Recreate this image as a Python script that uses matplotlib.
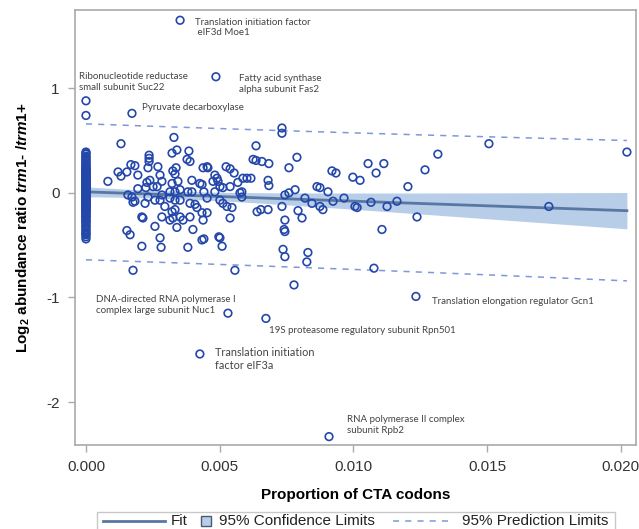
import numpy as np
import matplotlib
matplotlib.use("Agg")
import matplotlib.pyplot as plt
from matplotlib.lines import Line2D
from matplotlib.patches import Rectangle

plt.rcParams["font.family"] = ["Liberation Sans", "DejaVu Sans"]
plt.rcParams["axes.unicode_minus"] = False
plt.rcParams["mathtext.fontset"] = "custom"
plt.rcParams["mathtext.rm"] = "Liberation Sans:bold"
plt.rcParams["mathtext.it"] = "Liberation Sans:bold:italic"
plt.rcParams["mathtext.bf"] = "Liberation Sans:bold"

# Proteins with no CTA codons (log2 ratio only)
zero_cta_ratio = [
    0.88, 0.74,
    0.39, 0.38, 0.37, 0.35, 0.34, 0.33, 0.31, 0.31, 0.29, 0.28, 0.27, 0.26, 0.25, 0.24,
    0.23, 0.22, 0.22, 0.21, 0.20, 0.19, 0.19, 0.18, 0.17, 0.17, 0.16, 0.15, 0.15, 0.14,
    0.14, 0.13, 0.13, 0.12, 0.12, 0.11, 0.11, 0.10, 0.10, 0.10, 0.09, 0.09, 0.08, 0.08,
    0.08, 0.07, 0.07, 0.06, 0.06, 0.06, 0.06, 0.05, 0.05, 0.04, 0.04, 0.04, 0.04, 0.03,
    0.03, 0.03, 0.03, 0.02, 0.02, 0.02, 0.02, 0.02, 0.01, 0.01, 0.01, 0.01, 0.01, 0.00,
    0.00, 0.00, 0.00, 0.00, 0.00, -0.01, -0.01, -0.01, -0.01, -0.01, -0.02, -0.02, -0.02,
    -0.02, -0.03, -0.03, -0.03, -0.03, -0.04, -0.04, -0.04, -0.05, -0.05, -0.05, -0.06,
    -0.06, -0.06, -0.07, -0.07, -0.08, -0.08, -0.08, -0.09, -0.09, -0.10, -0.10, -0.11,
    -0.11, -0.12, -0.12, -0.13, -0.13, -0.14, -0.15, -0.15, -0.16, -0.17, -0.17, -0.18,
    -0.19, -0.20, -0.21, -0.22, -0.23, -0.23, -0.25, -0.26, -0.27, -0.28, -0.29, -0.31,
    -0.32, -0.33, -0.35, -0.36, -0.38, -0.39, -0.40, -0.42, -0.44,
]

# Proteins containing CTA codons: proportion of CTA codons and log2 ratio
cta_prop = [
    0.00082, 0.00131, 0.00120, 0.00131, 0.00153, 0.00168, 0.00183, 0.00194, 0.00157, 0.00172,
    0.00183, 0.00153, 0.00165, 0.00209, 0.00194, 0.00224, 0.00213, 0.00176, 0.00236, 0.00236,
    0.00236, 0.00232, 0.00239, 0.00228, 0.00251, 0.00232, 0.00258, 0.00221, 0.00209, 0.00269,
    0.00277, 0.00284, 0.00266, 0.00284, 0.00277, 0.00284, 0.00295, 0.00258, 0.00277, 0.00281,
    0.00329, 0.00322, 0.00340, 0.00325, 0.00337, 0.00333, 0.00344, 0.00322, 0.00314, 0.00333,
    0.00314, 0.00333, 0.00352, 0.00322, 0.00333, 0.00314, 0.00325, 0.00352, 0.00340, 0.00363,
    0.00385, 0.00378, 0.00389, 0.00396, 0.00381, 0.00396, 0.00389, 0.00408, 0.00415, 0.00389,
    0.00381, 0.00400, 0.00352, 0.00434, 0.00441, 0.00438, 0.00441, 0.00453, 0.00453, 0.00456,
    0.00453, 0.00434, 0.00434, 0.00482, 0.00490, 0.00475, 0.00494, 0.00501, 0.00482, 0.00501,
    0.00512, 0.00527, 0.00546, 0.00497, 0.00509, 0.00501, 0.00524, 0.00539, 0.00554, 0.00539,
    0.00539, 0.00568, 0.00576, 0.00583, 0.00587, 0.00602, 0.00617, 0.00625, 0.00636, 0.00636,
    0.00658, 0.00684, 0.00681, 0.00684, 0.00640, 0.00654, 0.00681, 0.00733, 0.00733, 0.00759,
    0.00789, 0.00733, 0.00744, 0.00759, 0.00782, 0.00744, 0.00741, 0.00744, 0.00737, 0.00744,
    0.00793, 0.00808, 0.00819, 0.00845, 0.00864, 0.00176, 0.00557, 0.00778, 0.00826, 0.00830,
    0.00875, 0.00905, 0.00875, 0.00886, 0.00924, 0.00965, 0.01006, 0.01014, 0.01066, 0.01126,
    0.01163, 0.01238, 0.01107, 0.01077, 0.00920, 0.00935, 0.00998, 0.01025, 0.01055, 0.01085,
    0.01114, 0.01204, 0.01268, 0.01316, 0.01507, 0.02023, 0.01731, 0.00583, 0.00426, 0.00512,
    0.00438,
    # named proteins
    0.00352, 0.00486, 0.00172, 0.00531, 0.00673, 0.00426, 0.01234, 0.00909,
]
log2_ratio = [
    0.11, 0.47, 0.20, 0.16, 0.20, 0.27, 0.26, 0.17, -0.02, -0.04,
    -0.08, -0.36, -0.40, -0.51, 0.04, 0.05, -0.24, -0.09, 0.36, 0.33,
    0.30, 0.24, 0.12, 0.10, 0.06, -0.04, -0.07, -0.10, -0.23, 0.25,
    0.17, 0.11, 0.06, -0.02, -0.07, -0.23, -0.13, -0.32, -0.43, -0.52,
    0.53, 0.38, 0.41, 0.21, 0.24, 0.18, 0.11, 0.09, 0.01, 0.01,
    -0.05, -0.07, -0.07, -0.18, -0.16, -0.26, -0.24, -0.23, -0.33, -0.26,
    0.40, 0.32, 0.30, 0.12, 0.01, 0.01, -0.10, -0.11, -0.14, -0.23,
    -0.52, -0.35, 0.03, 0.08, 0.01, -0.26, -0.44, -0.05, 0.25, 0.24,
    -0.19, -0.45, -0.19, 0.17, 0.14, 0.11, 0.11, 0.06, 0.01, -0.07,
    -0.10, -0.13, -0.14, -0.42, -0.51, -0.43, 0.25, 0.23, 0.19, 0.06,
    -0.24, 0.10, 0.00, -0.04, 0.14, 0.14, 0.14, 0.32, 0.31, 0.45,
    0.30, 0.28, 0.12, 0.07, -0.18, -0.16, -0.16, 0.62, 0.57, 0.24,
    0.34, -0.13, -0.02, 0.00, 0.03, -0.26, -0.35, -0.37, -0.54, -0.61,
    -0.17, -0.24, -0.05, -0.10, 0.06, -0.74, -0.74, -0.88, -0.66, -0.57,
    0.05, 0.01, -0.13, -0.16, -0.08, -0.05, -0.13, -0.14, -0.09, -0.13,
    -0.08, -0.23, -0.35, -0.72, 0.21, 0.19, 0.15, 0.12, 0.28, 0.19,
    0.28, 0.06, 0.22, 0.37, 0.47, 0.39, -0.13, 0.01, 0.09, 0.05,
    0.24,
    # named proteins
    1.65, 1.11, 0.76, -1.15, -1.20, -1.54, -0.99, -2.33,
]

protein_labels = [
    "Translation initiation factor\n eIF3d Moe1",
    "Ribonucleotide reductase\nsmall subunit Suc22",
    "Fatty acid synthase\nalpha subunit Fas2",
    "Pyruvate decarboxylase",
    "DNA-directed RNA polymerase I\ncomplex large subunit Nuc1",
    "19S proteasome regulatory subunit Rpn501",
    "Translation initiation\nfactor eIF3a",
    "Translation elongation regulator Gcn1",
    "RNA polymerase II complex\nsubunit Rpb2",
]
label_x = [0.00408, -0.00026, 0.00572, 0.00209, 0.00037, 0.00684, 0.00482, 0.01294, 0.00976]
label_y = [1.58, 1.06, 1.04, 0.82, -1.07, -1.32, -1.59, -1.04, -2.22]
label_size = [7, 7, 7, 7, 7, 7, 7.8, 7, 7]

legend_labels = ["Fit", "95% Confidence Limits", "95% Prediction Limits"]

x = np.concatenate([np.zeros(len(zero_cta_ratio)), np.array(cta_prop)])
y = np.concatenate([np.array(zero_cta_ratio), np.array(log2_ratio)])

# Ordinary least squares fit with confidence and prediction limits
n = len(x)
slope, intercept = np.polyfit(x, y, 1)
resid = y - (intercept + slope * x)
s = np.sqrt(np.sum(resid ** 2) / (n - 2))
xbar = x.mean()
sxx = np.sum((x - xbar) ** 2)
t = 1.968
xs = np.unique(x)
fit = intercept + slope * xs
se_mean = s * np.sqrt(1.0 / n + (xs - xbar) ** 2 / sxx)
se_pred = s * np.sqrt(1.0 + 1.0 / n + (xs - xbar) ** 2 / sxx)

fit_color = "#5a77a4"
band_color = "#b7cde8"
point_color = "#2447aa"
pred_color = "#7f97d8"
gray = "#a9a9a9"

W, H = 639, 529
fig = plt.figure(figsize=(W / 100, H / 100), dpi=100)
ax = fig.add_axes([75 / W, (H - 445) / H, (636 - 75) / W, (445 - 10) / H])

ax.fill_between(xs, fit - t * se_mean, fit + t * se_mean, color=band_color, lw=0, zorder=1)
ax.plot(xs, fit, color=fit_color, lw=2.0, zorder=2)
ax.plot(xs, fit + t * se_pred, color=pred_color, lw=1.1, ls=(0, (4, 4)), zorder=2)
ax.plot(xs, fit - t * se_pred, color=pred_color, lw=1.1, ls=(0, (4, 4)), zorder=2)
ax.scatter(x, y, s=30, facecolors="none", edgecolors=point_color, linewidths=1.2, zorder=3)

for lab, lx, ly, fs in zip(protein_labels, label_x, label_y, label_size):
    ax.text(lx, ly, lab, fontsize=fs, color="#444444", ha="left", va="center",
            family=["Lato", "DejaVu Sans"], linespacing=1.25)

ax.set_xlim(-0.00041, 0.02057)
ax.set_ylim(-2.41, 1.748)
ax.set_xticks([0.0, 0.005, 0.010, 0.015, 0.020])
ax.set_xticklabels(["0.000", "0.005", "0.010", "0.015", "0.020"])
ax.set_yticks([1, 0, -1, -2])
ax.set_yticklabels(["1", "0", "-1", "-2"])
for sp in ax.spines.values():
    sp.set_color(gray)
    sp.set_linewidth(1.2)
ax.tick_params(colors=gray, labelcolor="#333333", labelsize=11, length=5, width=1.0, pad=6)

ax.set_xlabel("Proportion of CTA codons", fontsize=11, fontweight="bold", labelpad=10)
ax.set_ylabel(r"Log$_2$ abundance ratio $\mathit{trm1}$- /$\mathit{trm1}$+",
              fontsize=11, fontweight="bold", labelpad=10)

# Legend strip along the bottom edge of the figure
def fx(px):
    return px / W

def fy(py):
    return 1 - py / H

ly = fy(521)
fig.add_artist(Rectangle((fx(97), fy(540)), fx(615) - fx(97), fy(512) - fy(540),
                         transform=fig.transFigure, facecolor="white",
                         edgecolor="#c8c8c8", lw=1.0))
fig.add_artist(Line2D([fx(103), fx(165)], [ly, ly], transform=fig.transFigure,
                      color=fit_color, lw=2.0))
fig.text(fx(171), ly, legend_labels[0], fontsize=11, va="center", ha="left", color="#222222")
fig.add_artist(Rectangle((fx(201), fy(526)), fx(211) - fx(201), fy(516) - fy(526),
                         transform=fig.transFigure, facecolor=band_color,
                         edgecolor="#4a5a70", lw=1.0))
fig.text(fx(219), ly, legend_labels[1], fontsize=11, va="center", ha="left", color="#222222")
fig.add_artist(Line2D([fx(393), fx(452)], [ly, ly], transform=fig.transFigure,
                      color=pred_color, lw=1.1, ls=(0, (4, 4))))
fig.text(fx(462), ly, legend_labels[2], fontsize=11, va="center", ha="left", color="#222222")

fig.savefig("out.png", dpi=100)
